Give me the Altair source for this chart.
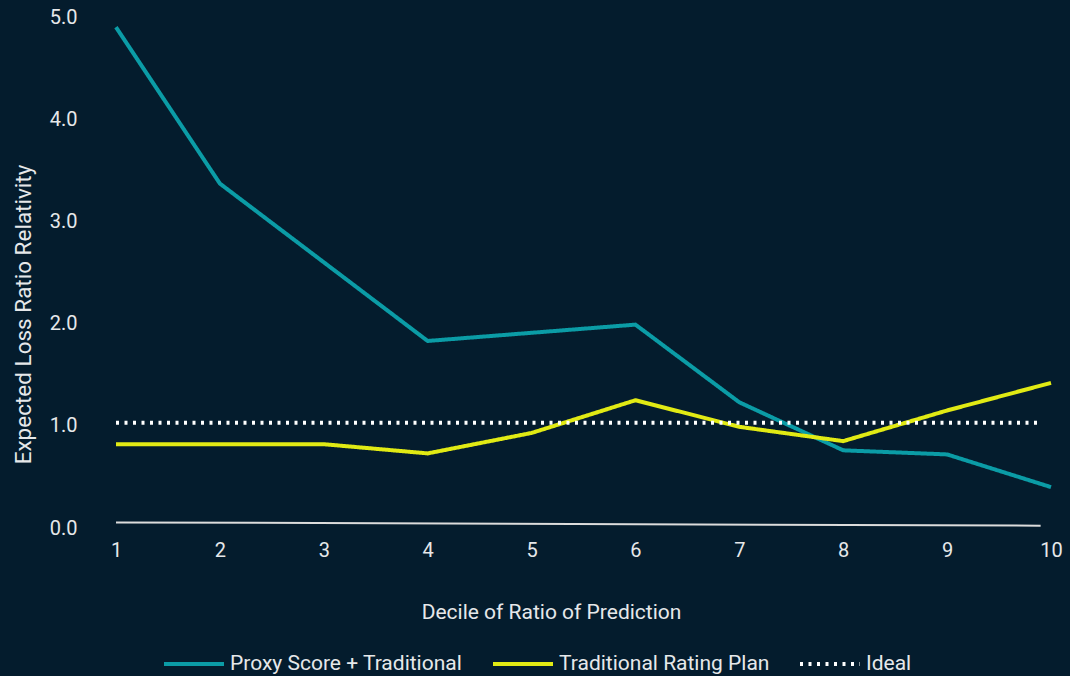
import altair as alt
import pandas as pd

# Decile axis and the two loss-ratio relativity curves
deciles = [1, 2, 3, 4, 5, 6, 7, 8, 9, 10]
proxy_score = [4.90, 3.37, 2.60, 1.83, 1.91, 1.99, 1.23, 0.76, 0.72, 0.40]
traditional_plan = [0.82, 0.82, 0.82, 0.73, 0.93, 1.25, 0.99, 0.85, 1.15, 1.42]

# Reference line for a perfectly calibrated plan
ideal_x = [1, 9.9]
ideal_y = [1.03, 1.03]

# Thin baseline drawn along the bottom of the plot
base_x = [1, 9.9]
base_y = [0.055, 0.023]

series_names = ["Proxy Score + Traditional", "Traditional Rating Plan", "Ideal"]
series_colors = ["#0b9ca6", "#e1ea14", "#ffffff"]
series_dashes = [[1, 0], [1, 0], [3, 5.5]]

y_ticks = [0, 1, 2, 3, 4, 5]

BG = "#041c2d"
TEXT = "#e6e8ea"
FONT = "Roboto"

rows = []
for d, v in zip(deciles, proxy_score):
    rows.append({"decile": d, "value": v, "series": series_names[0]})
for d, v in zip(deciles, traditional_plan):
    rows.append({"decile": d, "value": v, "series": series_names[1]})
for d, v in zip(ideal_x, ideal_y):
    rows.append({"decile": d, "value": v, "series": series_names[2]})
lines_df = pd.DataFrame(rows)

base_df = pd.DataFrame({"decile": base_x, "value": base_y})

x_scale = alt.Scale(domain=[1, 10], nice=False, zero=False)
y_scale = alt.Scale(domain=[0, 5], nice=False)

x_axis = alt.Axis(
    values=deciles, format="d", domain=False, ticks=False, grid=False,
    labelFlush=False,
    labelFont=FONT, labelFontSize=20, labelColor=TEXT, labelPadding=12,
    title="Decile of Ratio of Prediction", titleFont=FONT, titleFontSize=21,
    titleFontWeight="normal", titleColor=TEXT, titleX=435, titleY=84,
    titleAlign="center", titleBaseline="middle",
)
y_axis = alt.Axis(
    values=y_ticks, format=".1f", domain=False, ticks=False, grid=False,
    labelFlush=False,
    labelFont=FONT, labelFontSize=20, labelColor=TEXT, labelPadding=39,
    title="Expected Loss Ratio Relativity", titleFont=FONT, titleFontSize=22.5,
    titleFontWeight="normal", titleColor=TEXT, titleX=-93, titleY=297,
    titleAngle=270, titleAlign="center", titleBaseline="middle",
)

baseline = alt.Chart(base_df).mark_line(color="#dcdcdc", strokeWidth=2).encode(
    x=alt.X("decile:Q", scale=x_scale, axis=x_axis),
    y=alt.Y("value:Q", scale=y_scale, axis=y_axis),
)

series = alt.Chart(lines_df).mark_line(strokeWidth=4).encode(
    x=alt.X("decile:Q", scale=x_scale, axis=x_axis),
    y=alt.Y("value:Q", scale=y_scale, axis=y_axis),
    color=alt.Color(
        "series:N",
        scale=alt.Scale(domain=series_names, range=series_colors),
        legend=alt.Legend(
            orient="none", legendX=46, legendY=615, direction="horizontal",
            title=None, symbolType="stroke", symbolSize=3600,
            symbolStrokeWidth=4, labelFont=FONT, labelFontSize=21,
            labelColor=TEXT, labelOffset=4, labelLimit=500, columnPadding=22,
        ),
    ),
    strokeDash=alt.StrokeDash(
        "series:N",
        scale=alt.Scale(domain=series_names, range=series_dashes),
        legend=None,
    ),
    detail="series:N",
)

chart = (
    alt.layer(baseline, series)
    .properties(
        width=935, height=511,
        autosize=alt.AutoSizeParams(type="none"),
        padding={"left": 116, "top": 17, "right": 19, "bottom": 148},
        background=BG,
    )
    .configure_view(stroke=None)
)

chart.save("out.html", embed_options={"renderer": "svg", "actions": False})
